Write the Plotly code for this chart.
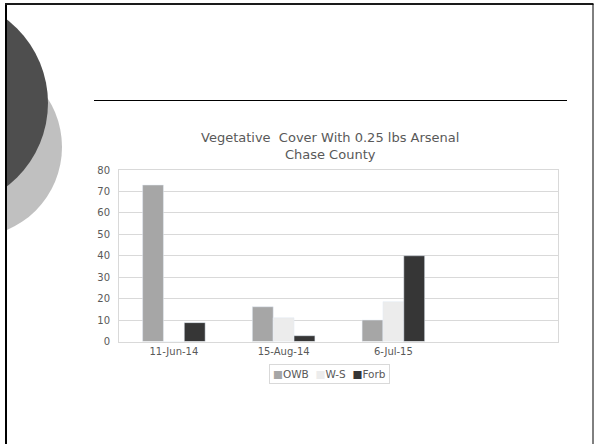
import plotly.graph_objects as go

categories = ["11-Jun-14", "15-Aug-14", "6-Jul-15", " "]
series_names = ["OWB", "W-S", "Forb"]
owb = [73, 16.2, 10, None]
ws = [0, 11.1, 18.6, None]
forb = [8.8, 2.7, 40, None]
y_ticks = [0, 10, 20, 30, 40, 50, 60, 70, 80]
colors = ["#a6a6a6", "#ececec", "#363636"]

W, H = 594, 444
def px(x):
    return x / W
def py(y):
    return 1 - y / H

fig = go.Figure()
for name, vals, col in zip(series_names, [owb, ws, forb], colors):
    fig.add_trace(go.Bar(name=name, x=categories, y=vals, marker_color=col))

font = "DejaVu Sans, Verdana, sans-serif"
fig.update_layout(
    width=W, height=H,
    margin=dict(l=0, r=0, t=0, b=0, pad=0, autoexpand=False),
    paper_bgcolor="white", plot_bgcolor="white",
    barmode="group", bargap=0.43, bargroupgap=0,
    showlegend=False,
    xaxis=dict(domain=[px(119), px(558)], type="category", range=[-0.5, 3.5],
               showgrid=False, showline=True, linecolor="#d9d9d9", mirror=True, automargin=False,
               ticks="", tickfont=dict(family=font, size=10, color="#595959")),
    yaxis=dict(domain=[py(341.5), py(170)], range=[0, 80], tickvals=y_ticks, automargin=False,
               showgrid=True, gridcolor="#d9d9d9", showline=True, linecolor="#d9d9d9", mirror=True,
               zeroline=False, ticks="", ticklabelstandoff=6,
               tickfont=dict(family=font, size=10, color="#595959")),
    font=dict(family=font),
)

fig.add_annotation(xref="paper", yref="paper", x=px(329.5), y=py(127.5), xanchor="center", yanchor="top",
                   text="Vegetative  Cover With 0.25 lbs Arsenal<br>Chase County", showarrow=False,
                   font=dict(family=font, size=13, color="#595959"))

legend_text = "  ".join(
    f"<span style='color:{c}'>■</span>{n}" for n, c in zip(series_names, colors)
)
fig.add_annotation(xref="paper", yref="paper", x=px(329.5), y=py(373.5), xanchor="center", yanchor="middle",
                   text=legend_text, showarrow=False, bordercolor="#d9d9d9", borderwidth=1, borderpad=3,
                   font=dict(family=font, size=10.5, color="#595959"))

shapes = [
    dict(type="circle", xref="paper", yref="paper", x0=px(-28 - 90), x1=px(-28 + 90),
         y0=py(147 + 90), y1=py(147 - 90), fillcolor="#c0c0c0", line=dict(width=0)),
    dict(type="circle", xref="paper", yref="paper", x0=px(-57.5 - 105.5), x1=px(-57.5 + 105.5),
         y0=py(103 + 105.5), y1=py(103 - 105.5), fillcolor="#4e4e4e", line=dict(width=0)),
    dict(type="rect", xref="paper", yref="paper", x0=0, x1=px(5), y0=0, y1=1,
         fillcolor="white", line=dict(width=0)),
    dict(type="rect", xref="paper", yref="paper", x0=0, x1=1, y0=py(3), y1=1,
         fillcolor="white", line=dict(width=0)),
    dict(type="line", xref="paper", yref="paper", x0=px(6), x1=px(6), y0=0, y1=py(3.5),
         line=dict(color="black", width=2)),
    dict(type="line", xref="paper", yref="paper", x0=px(5), x1=px(593.5), y0=py(4), y1=py(4),
         line=dict(color="#1a1a1a", width=2)),
    dict(type="line", xref="paper", yref="paper", x0=px(593), x1=px(593), y0=0, y1=py(4),
         line=dict(color="black", width=1)),
    dict(type="line", xref="paper", yref="paper", x0=px(94), x1=px(567), y0=py(100.5), y1=py(100.5),
         line=dict(color="black", width=1)),
]
fig.update_layout(shapes=shapes)

fig.write_html("out.html", config={"displayModeBar": False},
               post_script="document.body.style.margin='0';document.body.style.padding='0';"
                           "document.body.style.overflow='hidden';")
